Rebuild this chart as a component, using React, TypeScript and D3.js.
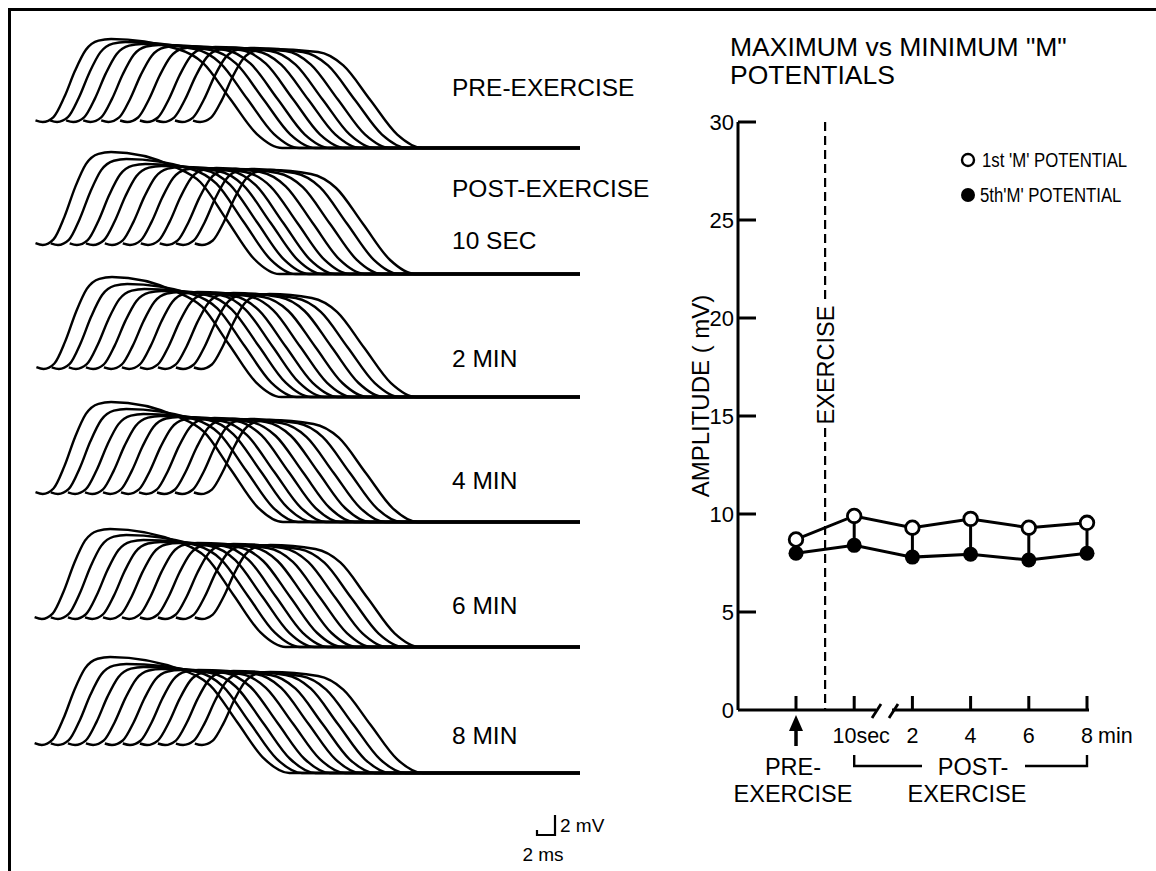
import React from 'react';
import * as d3 from 'd3';

const width = 1156;
const height = 871;
const font = "'Liberation Sans', Arial, sans-serif";

// ---------- left panel: ten superimposed M responses per recording ----------
const blockNames = ["PRE-EXERCISE", "10 SEC", "2 MIN", "4 MIN", "6 MIN", "8 MIN"];

// onset of each response (ms from start of sweep)
const onsetMs = [
    [0.3, 1.9, 3.7, 5.6, 7.6, 9.7, 11.9, 13.7, 15.8, 17.8],
    [0.3, 2.0, 4.1, 5.9, 8.0, 10.0, 12.0, 14.1, 15.9, 18.0],
    [0.4, 2.1, 4.0, 5.9, 7.9, 9.9, 11.9, 13.9, 15.9, 17.9],
    [0.3, 2.0, 3.9, 5.8, 7.8, 9.8, 11.8, 13.8, 15.8, 17.9],
    [0.2, 2.0, 3.9, 5.8, 7.8, 9.9, 11.9, 13.9, 15.9, 18.0],
    [0.2, 2.0, 3.9, 5.9, 8.0, 10.0, 11.9, 13.9, 15.9, 18.0],
];
// mid point of the falling phase (ms)
const fallMs = [
    [21.1, 23.0, 24.8, 26.4, 28.1, 29.8, 31.4, 33.1, 35.0, 36.7],
    [20.8, 22.6, 24.1, 25.6, 27.0, 28.6, 30.3, 32.2, 34.1, 35.9],
    [21.0, 22.7, 24.3, 25.8, 27.3, 28.9, 30.6, 32.4, 34.2, 36.0],
    [21.2, 22.9, 24.5, 26.0, 27.6, 29.2, 30.9, 32.6, 34.4, 36.2],
    [21.5, 23.1, 24.7, 26.2, 27.8, 29.4, 31.1, 32.8, 34.6, 36.4],
    [21.9, 23.3, 24.8, 26.4, 28.1, 29.8, 31.4, 33.1, 34.8, 36.7],
];
// peak of the rising phase (mV)
const peakMv = [
    [8.3, 8.0, 7.8, 7.7, 7.6, 7.5, 7.5, 7.4, 7.4, 7.3],
    [9.3, 8.6, 8.1, 7.9, 7.8, 7.7, 7.7, 7.6, 7.6, 7.5],
    [9.2, 8.5, 8.0, 7.8, 7.7, 7.7, 7.6, 7.6, 7.5, 7.5],
    [9.2, 8.5, 8.0, 7.8, 7.7, 7.6, 7.6, 7.5, 7.5, 7.4],
    [9.0, 8.4, 7.9, 7.7, 7.6, 7.6, 7.5, 7.5, 7.4, 7.4],
    [8.8, 8.1, 7.8, 7.6, 7.5, 7.5, 7.4, 7.4, 7.3, 7.3],
];
// level just before the fall (mV)
const plateauMv = [
    [7.3, 7.3, 7.2, 7.2, 7.2, 7.1, 7.1, 7.1, 7.0, 7.0],
    [7.8, 7.6, 7.5, 7.4, 7.4, 7.3, 7.3, 7.2, 7.2, 7.1],
    [7.7, 7.5, 7.4, 7.4, 7.3, 7.3, 7.2, 7.2, 7.1, 7.1],
    [7.7, 7.5, 7.4, 7.3, 7.3, 7.2, 7.2, 7.1, 7.1, 7.0],
    [7.6, 7.4, 7.3, 7.3, 7.2, 7.2, 7.1, 7.1, 7.0, 7.0],
    [7.4, 7.3, 7.2, 7.2, 7.1, 7.1, 7.0, 7.0, 6.9, 6.9],
];
// level after the fall (mV)
const afterMv = [-2.6, -2.9, -2.8, -2.8, -2.8, -2.8];

// rising edge: ms after onset, fraction of peak
const riseShape = [[-0.8, 0.02], [0, 0], [1.2, 0.06], [2.4, 0.3], [3.6, 0.62], [4.8, 0.87], [6.2, 0.98], [7.6, 1]];
// falling edge: ms around its mid point, fraction of the drop
const fallShape = [[-5.8, 0], [-3, 0.14], [0, 0.5], [3, 0.86], [5.8, 1]];

// ---------- right panel ----------
const times = ["PRE", "10sec", "2", "4", "6", "8"];
const firstM = [8.7, 9.9, 9.3, 9.75, 9.3, 9.55];
const fifthM = [8.0, 8.4, 7.8, 7.95, 7.65, 8.0];
const ampTicks = [0, 5, 10, 15, 20, 25, 30];
const timeLabels = ["10sec", "2", "4", "6", "8"];

// layout
const blockBase = [122, 245, 369, 494, 619, 745];
const labelY = [96, 249, 367, 489, 614, 744];

const xMs = d3.scaleLinear().domain([0, 60]).range([40, 580]);

const Label = ({ x, y, size, anchor = "start", sx = 1, children }: any) => (
    <text transform={`translate(${x},${y}) scale(${sx},1)`} fontSize={size} textAnchor={anchor}>{children}</text>
);

const App = () => {
    const traceLine = (b: number) => {
        const y = d3.scaleLinear().domain([0, 10]).range([blockBase[b], blockBase[b] - 100]);
        return d3.line<number[]>()
            .x(d => xMs(d[0]))
            .y(d => y(d[1]))
            .curve(d3.curveMonotoneX);
    };

    const tracePoints = (b: number, i: number) => {
        const t0 = onsetMs[b][i], tf = fallMs[b][i];
        const pk = peakMv[b][i], pl = plateauMv[b][i], lo = afterMv[b];
        const pts = riseShape.map(([dt, f]) => [t0 + dt, f * pk]);
        fallShape.forEach(([dt, f]) => pts.push([tf + dt, pl - f * (pl - lo)]));
        pts.push([60, lo]);
        return pts;
    };

    const x = d3.scalePoint().domain(times).range([796, 1087]);
    const y = d3.scaleLinear().domain([0, 30]).range([710, 122]);
    const y0 = y(0);
    const dashX = ((x("PRE") as number) + (x("10sec") as number)) / 2;
    const exTop = 302, exBottom = 428;

    const seriesLine = d3.line<number>()
        .x((d, i) => x(times[i]) as number)
        .y(d => y(d));

    // scale bar: 2 ms x 2 mV
    const sbX = 555, sbY = 835;
    const sbW = xMs(2) - xMs(0);
    const sbH = 20;

    const pre = x("PRE") as number;
    const post0 = x("10sec") as number;
    const post1 = x("8") as number;

    return (
        <svg width={width} height={height} style={{ position: "absolute", left: 0, top: 0, background: "#fff" }}
            fontFamily={font}>
            {/* frame */}
            <path d={`M9.5,${height} L9.5,9.5 L${width},9.5`} fill="none" stroke="#000" strokeWidth={3} />

            {/* traces */}
            {blockNames.map((name, b) => (
                <g key={name}>
                    {onsetMs[b].map((_, i) => (
                        <path key={i} d={traceLine(b)(tracePoints(b, i)) as string}
                            fill="none" stroke="#000" strokeWidth={2.4} />
                    ))}
                </g>
            ))}
            <Label x={452} y={labelY[0]} size={24.5}>PRE-EXERCISE</Label>
            <Label x={452} y={197} size={24.5}>POST-EXERCISE</Label>
            {blockNames.slice(1).map((name, i) => (
                <Label key={name} x={452} y={labelY[i + 1]} size={24.5}>{name}</Label>
            ))}

            {/* scale bar */}
            <path d={`M${sbX - sbW},${sbY - 5} L${sbX - sbW},${sbY} L${sbX},${sbY} L${sbX},${sbY - sbH}`}
                fill="none" stroke="#000" strokeWidth={2.2} />
            <Label x={sbX + 5} y={sbY - 3} size={19}>2 mV</Label>
            <Label x={sbX - sbW / 2 - 3} y={sbY + 26} size={19} anchor="middle">2 ms</Label>

            {/* right panel title */}
            <Label x={730} y={56} size={26.5}>MAXIMUM vs MINIMUM "M"</Label>
            <Label x={730} y={84} size={26.5}>POTENTIALS</Label>

            {/* y axis */}
            <line x1={738} x2={738} y1={y(30)} y2={y0} stroke="#000" strokeWidth={3} />
            {ampTicks.map(t => (
                <g key={t}>
                    {t > 0 && <line x1={738} x2={756} y1={y(t)} y2={y(t)} stroke="#000" strokeWidth={3} />}
                    <text x={734} y={y(t)} dy="0.36em" textAnchor="end" fontSize={22}>{t}</text>
                </g>
            ))}
            <text transform={`translate(709,${(y(0) + y(30)) / 2 - 20}) rotate(-90)`} textAnchor="middle"
                fontSize={24}>AMPLITUDE ( mV)</text>

            {/* x axis with break */}
            <line x1={738} x2={876} y1={y0} y2={y0} stroke="#000" strokeWidth={3} />
            <line x1={892} x2={post1 + 2} y1={y0} y2={y0} stroke="#000" strokeWidth={3} />
            <line x1={872} x2={881} y1={y0 + 8} y2={y0 - 6} stroke="#000" strokeWidth={2.8} />
            <line x1={889} x2={898} y1={y0 + 8} y2={y0 - 6} stroke="#000" strokeWidth={2.8} />
            {times.map(t => (
                <line key={t} x1={x(t)} x2={x(t)} y1={y0} y2={y0 - 14} stroke="#000" strokeWidth={3} />
            ))}
            {timeLabels.map(t => (
                <text key={t} x={(x(t) as number) + (t === "10sec" ? 7 : 0)} y={743} textAnchor="middle"
                    fontSize={21.5}>{t}</text>
            ))}
            <text x={post1 + 11} y={743} fontSize={21.5}>min</text>

            {/* exercise marker */}
            <line x1={dashX} x2={dashX} y1={y(30)} y2={exTop} stroke="#000" strokeWidth={2.2} strokeDasharray="9,5" />
            <line x1={dashX} x2={dashX} y1={exBottom} y2={y0} stroke="#000" strokeWidth={2.2} strokeDasharray="9,5" />
            <text transform={`translate(${dashX + 9},${(exTop + exBottom) / 2}) rotate(-90)`} textAnchor="middle"
                fontSize={23.5}>EXERCISE</text>

            {/* pre arrow */}
            <line x1={pre} x2={pre} y1={746} y2={726} stroke="#000" strokeWidth={3.5} />
            <path d={`M${pre},${715} L${pre - 7},${731} L${pre + 7},${731} Z`} fill="#000" />
            <Label x={pre - 3} y={775} size={23.5} anchor="middle">PRE-</Label>
            <Label x={pre - 3} y={802} size={23.5} anchor="middle">EXERCISE</Label>

            {/* post bracket */}
            <path d={`M${post0},755 L${post0},766 L922,766`} fill="none" stroke="#000" strokeWidth={2.4} />
            <path d={`M1025,766 L${post1},766 L${post1},755`} fill="none" stroke="#000" strokeWidth={2.4} />
            <Label x={973} y={775} size={23.5} anchor="middle">POST-</Label>
            <Label x={967} y={802} size={23.5} anchor="middle">EXERCISE</Label>

            {/* data */}
            {times.map((t, i) => (
                <line key={t} x1={x(t)} x2={x(t)} y1={y(firstM[i])} y2={y(fifthM[i])} stroke="#000" strokeWidth={3} />
            ))}
            <path d={seriesLine(firstM) as string} fill="none" stroke="#000" strokeWidth={3} />
            <path d={seriesLine(fifthM) as string} fill="none" stroke="#000" strokeWidth={3} />
            {times.map((t, i) => (
                <circle key={t} cx={x(t)} cy={y(fifthM[i])} r={7.5} fill="#000" />
            ))}
            {times.map((t, i) => (
                <circle key={t} cx={x(t)} cy={y(firstM[i])} r={6.8} fill="#fff" stroke="#000" strokeWidth={2.8} />
            ))}

            {/* legend */}
            <circle cx={968} cy={160} r={6} fill="#fff" stroke="#000" strokeWidth={2.4} />
            <Label x={982} y={167} size={19.5} sx={0.86}>1st 'M' POTENTIAL</Label>
            <circle cx={968} cy={195} r={7} fill="#000" />
            <Label x={980} y={202} size={19.5} sx={0.86}>5th'M' POTENTIAL</Label>
        </svg>
    );
};

export default App;
